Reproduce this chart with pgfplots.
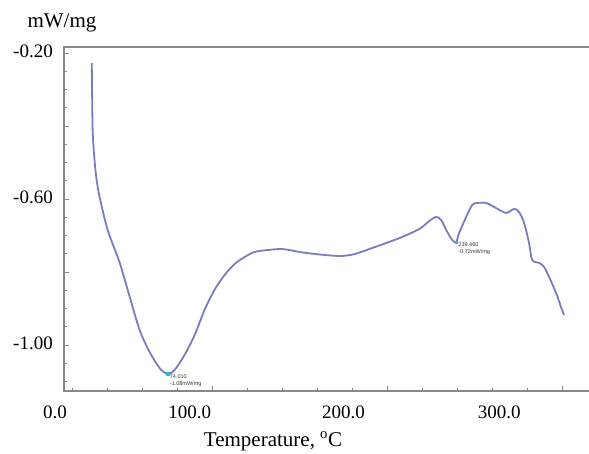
\documentclass[border=0pt]{standalone}
\usepackage{pgfplots}
\pgfplotsset{compat=1.18}
\usepackage{fontspec}
\setmainfont{Liberation Serif}
\newfontfamily\annfont{Liberation Sans}
\definecolor{curve}{RGB}{122,124,192}
\definecolor{spine}{RGB}{135,135,135}
\definecolor{mk}{RGB}{40,190,210}
\begin{document}
\begin{tikzpicture}
\begin{axis}[
  scale only axis, width=528bp, height=344bp,
  xmin=15, xmax=317.1, ymin=-1.1258, ymax=-0.1836,
  axis line style={spine, line width=1.8bp},
  tick align=inside, tick pos=left,
  tick style={spine, line width=0.8bp},
  major tick length=5bp, minor tick length=3bp,
  xtick={100,200,300}, xticklabels={,,},
  minor xtick={20,40,60,80,120,140,160,180,220,240,260,280,300},
  extra x ticks={15,86.9,174.9,264},
  extra x tick labels={\hspace*{-18bp}0.0,100.0,200.0,300.0},
  extra x tick style={major tick length=0pt},
  ytick={-1.0,-0.8,-0.6,-0.4,-0.2},
  yticklabels={-1.00,{},-0.60,{},-0.20},
  minor ytick={-1.10,-1.05,-0.95,-0.90,-0.85,-0.75,-0.70,-0.65,-0.55,-0.50,-0.45,-0.35,-0.30,-0.25},
  xticklabel style={anchor=base, yshift=-27bp, font=\fontsize{19bp}{22bp}\selectfont},
  yticklabel style={anchor=east, inner sep=0pt, xshift=-11bp, yshift=2bp, font=\fontsize{19bp}{22bp}\selectfont},
  xlabel={Temperature, \textsuperscript{o}C},
  xlabel style={at={(rel axis cs:0,0)}, anchor=base, xshift=209bp, yshift=-55bp, font=\fontsize{21bp}{24bp}\selectfont},
  ylabel={mW/mg},
  ylabel style={rotate=-90, at={(rel axis cs:0,1)}, anchor=base, xshift=-2bp, yshift=19bp, font=\fontsize{21bp}{24bp}\selectfont},
  clip=false,
]
\addplot[curve, line width=1.8bp, smooth] table {
T V
30.9 -0.227
31.4 -0.411
32.6 -0.501
33.7 -0.548
35.4 -0.595
40.0 -0.685
46.9 -0.775
52.6 -0.868
58.3 -0.959
64.0 -1.019
69.7 -1.063
74.3 -1.079
78.3 -1.068
84.0 -1.027
89.7 -0.973
95.4 -0.904
101.1 -0.849
106.9 -0.808
112.6 -0.778
118.3 -0.759
124.0 -0.745
130.9 -0.740
140.0 -0.737
149.7 -0.745
159.4 -0.751
172.6 -0.756
181.1 -0.751
191.4 -0.734
206.9 -0.707
218.3 -0.682
224.0 -0.660
228.0 -0.649
230.9 -0.658
233.7 -0.685
237.1 -0.712
239.4 -0.718
241.1 -0.693
245.1 -0.649
248.6 -0.616
251.4 -0.611
256.6 -0.611
262.3 -0.625
268.0 -0.638
272.6 -0.627
275.4 -0.636
278.3 -0.666
281.1 -0.721
282.9 -0.767
286.9 -0.775
289.7 -0.786
292.6 -0.814
296.6 -0.858
299.4 -0.896
301.1 -0.918
};
\addplot[only marks, mark=square*, mark size=1.3bp, color=mk] coordinates {(74.3,-1.079) (239.4,-0.718)};
\node[anchor=north west, inner sep=0pt, align=left, font=\annfont\fontsize{5.5bp}{6.5bp}\selectfont, text=black!80] at (axis cs:75.5,-1.081) {74.010\\-1.08mW/mg};
\node[anchor=north west, inner sep=0pt, align=left, font=\annfont\fontsize{5.5bp}{6.5bp}\selectfont, text=black!80] at (axis cs:240.6,-0.720) {239.460\\-0.72mW/mg};
\end{axis}
\pgfresetboundingbox
\useasboundingbox (-64bp,-63bp) rectangle (525bp,391bp);
\end{tikzpicture}
\end{document}
